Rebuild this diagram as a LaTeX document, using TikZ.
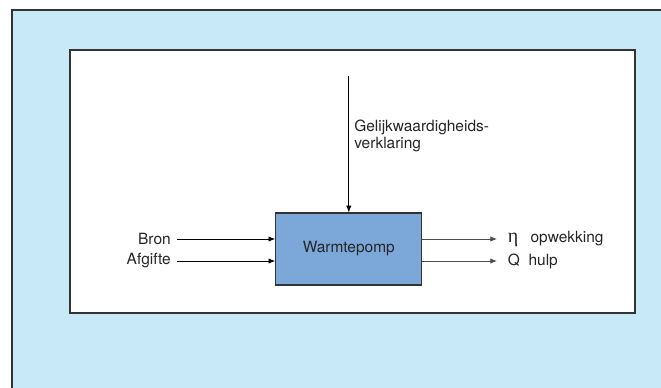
\documentclass[tikz,border=0pt]{standalone}
\usepackage{fontspec}
\setmainfont{TeX Gyre Heros}
\newfontfamily\greekfont{Liberation Serif}
\usepackage{xcolor}
\usepackage[]{tikz}
\usetikzlibrary{positioning,calc}
\usetikzlibrary{arrows.meta,arrows}
\definecolor{panelBlue}{HTML}{C7E9F8}
\definecolor{pompBlue}{HTML}{7BA7D9}
\definecolor{frameGrey}{HTML}{333333}
\definecolor{textGrey}{HTML}{262626}
\tikzstyle{pompBox} =[rectangle,draw=frameGrey,fill=pompBlue,line width=0.9pt,minimum width=109.5pt,minimum height=54pt,inner sep=0pt,font=\fontsize{11.6}{13}\selectfont,text=textGrey]
\tikzstyle{tag}     =[inner ysep=0pt,font=\fontsize{11.6}{13}\selectfont,text=textGrey]
\tikzstyle{flowIn}  =[-{Latex[length=5pt,width=4pt]},line width=0.6pt,black]
\tikzstyle{flowOut} =[-{Latex[length=5pt,width=4pt]},line width=0.6pt,black!70]

\begin{document}
\begin{tikzpicture}[x=0.75pt,y=-0.75pt]
      \useasboundingbox (0,0) rectangle (661,388);
      % panels
      \fill[panelBlue] (12,10) rectangle (661,388);
      \draw[black!25,line width=0.6pt] (12,9) -- (661,9);
      \draw[frameGrey,line width=0.9pt] (12,388) -- (12,10) -- (661,10);
      \draw[frameGrey,fill=white,line width=0.8pt] (70,50) rectangle (635,313);
      % heat pump and its in- and outputs
      \node[pompBox] (pomp) at (348.8,249) {Warmtepomp};
      \node[tag,anchor=east,inner xsep=4.5pt] (bron) at (177,239) {Bron};
      \node[tag,anchor=east,inner xsep=4.5pt] (afgifte) at (177,261) {Afgifte};
      \node[tag,anchor=west,inner xsep=8pt] (eta) at (497,239) {\makebox[17pt][l]{\greekfont\fontsize{15}{15}\selectfont η}opwekking};
      \node[tag,anchor=west,inner xsep=8pt] (qhulp) at (497,261) {\makebox[15.5pt][l]{Q}hulp};
      \coordinate (top) at (348.8,76);
      \node[tag,anchor=north west,inner sep=0pt,align=left] (verklaring) at (354,119.5) {Gelijkwaardigheids-\\verklaring};
      \draw[flowIn] (bron.east) -- (pomp.west |- bron.east);
      \draw[flowIn] (afgifte.east) -- (pomp.west |- afgifte.east);
      \draw[flowOut] (pomp.east |- eta.west) -- (eta.west);
      \draw[flowOut] (pomp.east |- qhulp.west) -- (qhulp.west);
      \draw[flowIn] (top) -- (pomp.north);
    \end{tikzpicture}
\end{document}
